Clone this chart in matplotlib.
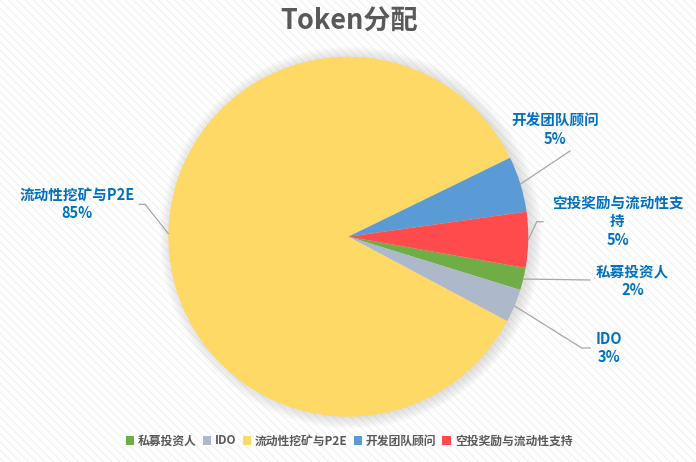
import numpy as np
import matplotlib
matplotlib.use('Agg')
import matplotlib.pyplot as plt
from matplotlib.patches import Rectangle, Circle

plt.rcParams['font.family'] = ['Noto Sans CJK SC', 'DejaVu Sans']
plt.rcParams['hatch.linewidth'] = 0.6

# data
labels = ['私募投资人', 'IDO', '流动性挖矿与P2E', '开发团队顾问', '空投奖励与流动性支持']
label_text = ['私募投资人', 'IDO', '流动性挖矿与P2E', '开发团队顾问', '空投奖励与流动性支\n持']
values = [2, 3, 85, 5, 5]
colors = ['#70AD47', '#ADB9CA', '#FFD966', '#5B9BD5', '#FF4B4B']

W, H = 696, 462
cx, cy, R = 348.3, 236.7, 180.0

fig = plt.figure(figsize=(W / 100, H / 100), dpi=100)
fig.patches.append(Rectangle((0, 0), 1, 1, transform=fig.transFigure, facecolor='white',
                             edgecolor='#EDEDED', hatch='\\\\\\\\', linewidth=0, zorder=-10))

ax = fig.add_axes([(cx - R) / W, (H - cy - R) / H, 2 * R / W, 2 * R / H])
ax.axis('off')


def d(px, py):
    # pixel -> data coords
    return (px - cx) / R, (cy - py) / R


# soft shadow halo
for r in np.linspace(1.0, 1.06, 7):
    ax.add_patch(Circle((0.015, -0.005), r, facecolor='#808080', alpha=0.035,
                        edgecolor='none', zorder=0, clip_on=False))

wedges, _ = ax.pie(values, colors=colors, startangle=-10, counterclock=False, radius=1,
                   wedgeprops=dict(linewidth=0))
for w in wedges:
    w.set_zorder(2)
ax.set_xlim(-1, 1)
ax.set_ylim(-1, 1)
ax.set_aspect('equal')

# label layout: text center (px), elbow points (px)
lab_pos = [(632.5, 280.5), (609, 348), (76.7, 204), (555, 130), (617.5, 221)]
elbows = [[(590, 280)], [(581.7, 348), (590, 348)], [(145, 204.3), (139.3, 204.3)],
          [(570, 151)], [(536.7, 221.7), (543, 221.7)]]

for w, txt, v, pos, elb in zip(wedges, label_text, values, lab_pos, elbows):
    ang = np.deg2rad((w.theta1 + w.theta2) / 2)
    xs = [np.cos(ang)] + [d(*p)[0] for p in elb]
    ys = [np.sin(ang)] + [d(*p)[1] for p in elb]
    ax.plot(xs, ys, color='#A6A6A6', lw=0.9, clip_on=False, zorder=3)
    tx, ty = d(*pos)
    ax.text(tx, ty, f'{txt}\n{v}%', ha='center', va='center', fontsize=10.5,
            fontweight='bold', color='#0070C0', linespacing=1.2, clip_on=False)

fig.text(349 / W, 1 - 22 / H, 'Token分配', ha='center', va='center', fontsize=19.5,
         fontweight='bold', color='#595959')

fig.legend(wedges, labels, loc='center', bbox_to_anchor=(349 / W, 1 - 441 / H), ncol=5,
           frameon=False, handlelength=0.7, handleheight=0.7,
           handletextpad=0.35, columnspacing=0.5, labelcolor='#595959',
           prop={'weight': 'bold', 'size': 8.5})

fig.savefig('out.png', dpi=100)
